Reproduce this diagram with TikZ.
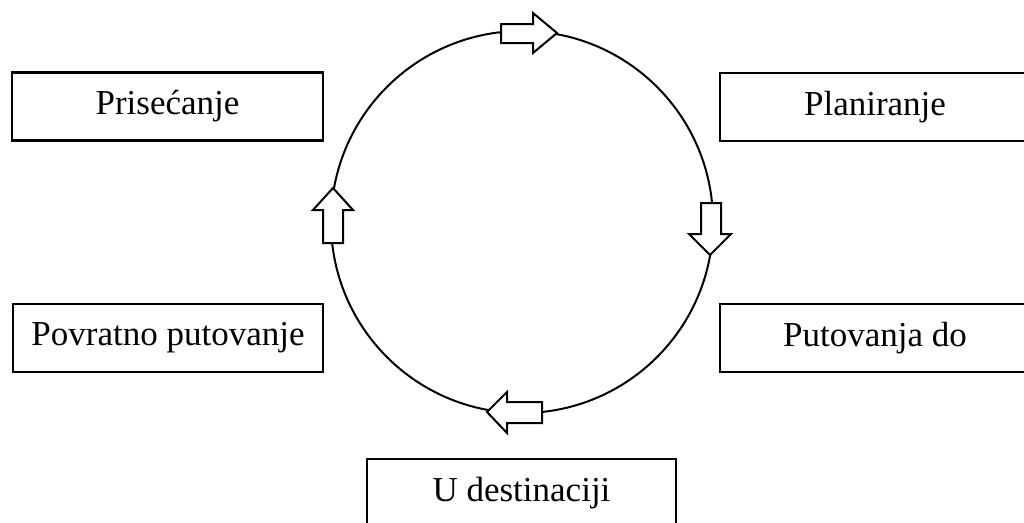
\documentclass[tikz,border=0pt]{standalone}
\usepackage{fontspec}
\setmainfont{Liberation Serif}
\begin{document}
\begin{tikzpicture}[x=1pt,y=-1pt,
  stagebox/.style={draw=black,line width=2.4pt,fill=white,minimum width=#1,minimum height=68pt,inner sep=0pt,font=\fontsize{35}{40}\selectfont},
  blockarrow/.style={draw=black,line width=2pt,fill=white,line join=miter}]
\useasboundingbox (0,0) rectangle (1024,522);
\clip (0,0) rectangle (1024,522);
\fill[white] (0,0) rectangle (1024,522);
% cycle
\draw[line width=2pt] (522,222) circle[radius=191pt];
% stage boxes
\node[stagebox=311pt] (pris) at (167.5,106.5) {Prisećanje};
\node[stagebox=310pt] (plan) at (875,107) {Planiranje};
\node[stagebox=310pt] (povr) at (168,338) {Povratno putovanje};
\node[stagebox=310pt] (puto) at (875,338) {Putovanja do};
\node[stagebox=309pt] (udes) at (521.5,493) {U destinaciji};
% block arrows on the circle
\draw[blockarrow] (501,24) -- (533,24) -- (533,13) -- (557,33) -- (533,53) -- (533,43) -- (501,43) -- cycle;
\draw[blockarrow] (701,203) -- (721,203) -- (721,234) -- (731,234) -- (710,255) -- (689,234) -- (701,234) -- cycle;
\draw[blockarrow] (542,402) -- (542,423) -- (507,423) -- (507,433) -- (487,412) -- (507,392) -- (507,402) -- cycle;
\draw[blockarrow] (323,243) -- (343,243) -- (343,210) -- (353,210) -- (333,188) -- (313,210) -- (323,210) -- cycle;
\end{tikzpicture}
\end{document}
